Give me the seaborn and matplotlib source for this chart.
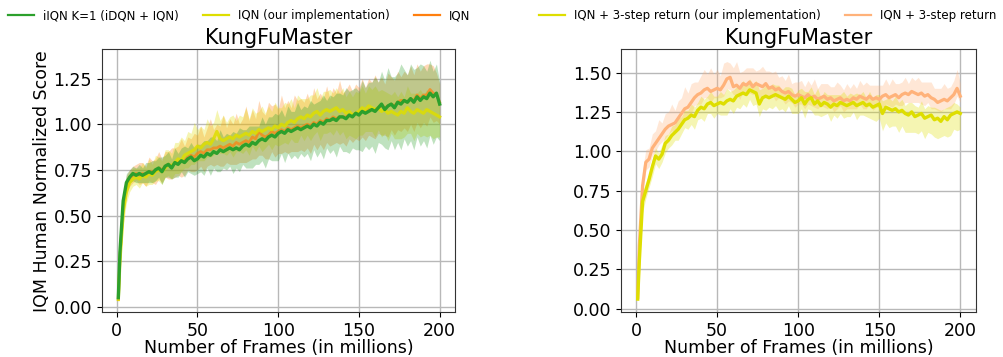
import numpy as np
import matplotlib
matplotlib.use("Agg")
import matplotlib.pyplot as plt
from matplotlib.lines import Line2D
import seaborn as sns

# Frames (in millions) at which the IQM score was logged
frames = np.concatenate([[1], np.arange(2, 201, 2)])

# ---- Left panel: iIQN K=1 vs IQN ----
iiqn_mean = [0.05, 0.30, 0.58, 0.68, 0.71, 0.73,
             0.72, 0.73, 0.72, 0.73, 0.74, 0.73, 0.75, 0.76, 0.74, 0.77, 0.78, 0.76, 0.79, 0.78, 0.80, 0.79, 0.81, 0.82, 0.80,
             0.81, 0.83, 0.82, 0.84, 0.83, 0.85, 0.84, 0.86, 0.85, 0.86, 0.87, 0.86, 0.87, 0.86, 0.88, 0.89, 0.88, 0.90, 0.89, 0.91, 0.92, 0.91, 0.93, 0.94, 0.93,
             0.95, 0.96, 0.95, 0.97, 0.96, 0.97, 0.98, 0.97, 0.98, 0.99, 0.98, 1.00, 0.99, 1.01, 1.00, 1.02, 1.02, 1.03, 1.02, 1.04, 1.04, 1.03, 1.05, 1.04, 1.06,
             1.05, 1.07, 1.06, 1.07, 1.08, 1.07, 1.09, 1.11, 1.08, 1.10, 1.11, 1.09, 1.12, 1.11, 1.13, 1.12, 1.14, 1.12, 1.15, 1.13, 1.15, 1.14, 1.17, 1.15, 1.17, 1.11]
iiqn_lo = [0.01, 0.03, 0.04, 0.04, 0.03, 0.04,
           0.04, 0.05, 0.04, 0.05, 0.06, 0.05, 0.06, 0.05, 0.07, 0.06, 0.07, 0.06, 0.08, 0.07, 0.06, 0.08, 0.07, 0.09, 0.08,
           0.08, 0.09, 0.10, 0.08, 0.11, 0.09, 0.10, 0.12, 0.09, 0.11, 0.10, 0.13, 0.11, 0.12, 0.10, 0.13, 0.12, 0.14, 0.11, 0.13, 0.12, 0.15, 0.12, 0.14, 0.13,
           0.15, 0.12, 0.16, 0.13, 0.15, 0.14, 0.17, 0.13, 0.16, 0.15, 0.18, 0.14, 0.17, 0.16, 0.19, 0.15, 0.18, 0.17, 0.20, 0.16, 0.19, 0.18, 0.21, 0.17, 0.20,
           0.19, 0.22, 0.18, 0.21, 0.20, 0.23, 0.19, 0.22, 0.21, 0.24, 0.20, 0.23, 0.22, 0.25, 0.21, 0.24, 0.23, 0.26, 0.22, 0.25, 0.24, 0.27, 0.23, 0.26, 0.24, 0.20]
iiqn_hi = [0.01, 0.04, 0.05, 0.05, 0.04, 0.04,
           0.04, 0.05, 0.04, 0.06, 0.05, 0.07, 0.05, 0.06, 0.08, 0.06, 0.07, 0.05, 0.08, 0.06, 0.07, 0.09, 0.06, 0.08, 0.07,
           0.08, 0.06, 0.09, 0.07, 0.10, 0.08, 0.07, 0.11, 0.08, 0.09, 0.07, 0.10, 0.08, 0.12, 0.09, 0.08, 0.11, 0.09, 0.10, 0.08, 0.12, 0.09, 0.11, 0.10, 0.13,
           0.10, 0.12, 0.09, 0.13, 0.11, 0.10, 0.14, 0.11, 0.12, 0.10, 0.15, 0.11, 0.13, 0.12, 0.16, 0.11, 0.14, 0.12, 0.15, 0.13, 0.12, 0.17, 0.13, 0.15, 0.14,
           0.13, 0.17, 0.14, 0.16, 0.15, 0.19, 0.14, 0.18, 0.16, 0.21, 0.15, 0.17, 0.16, 0.22, 0.17, 0.15, 0.19, 0.18, 0.16, 0.20, 0.17, 0.15, 0.18, 0.14, 0.16, 0.12]

iqn_ours_mean = [0.04, 0.25, 0.52, 0.63, 0.68, 0.70,
                 0.71, 0.70, 0.72, 0.71, 0.73, 0.72, 0.74, 0.75, 0.74, 0.76, 0.78, 0.77, 0.79, 0.81, 0.80, 0.83, 0.84, 0.85, 0.86,
                 0.88, 0.87, 0.89, 0.90, 0.89, 0.92, 0.96, 0.92, 0.91, 0.92, 0.93, 0.92, 0.94, 0.93, 0.94, 0.95, 0.94, 0.96, 0.95, 0.97, 0.96, 0.97, 0.98, 0.97, 0.99,
                 0.98, 1.00, 0.99, 1.01, 1.02, 1.01, 1.03, 1.04, 1.03, 1.05, 1.04, 1.06, 1.07, 1.05, 1.07, 1.08, 1.07, 1.08, 1.09, 1.07, 1.08, 1.06, 1.07, 1.05, 1.06,
                 1.07, 1.09, 1.08, 1.10, 1.09, 1.08, 1.09, 1.07, 1.08, 1.06, 1.07, 1.06, 1.05, 1.07, 1.06, 1.09, 1.07, 1.06, 1.08, 1.07, 1.06, 1.08, 1.07, 1.06, 1.05, 1.04]
iqn_ours_lo = [0.01, 0.05, 0.08, 0.06, 0.05, 0.04,
               0.04, 0.05, 0.04, 0.05, 0.06, 0.05, 0.05, 0.06, 0.07, 0.05, 0.06, 0.07, 0.06, 0.08, 0.06, 0.07, 0.08, 0.07, 0.08,
               0.08, 0.07, 0.09, 0.08, 0.07, 0.09, 0.10, 0.08, 0.07, 0.09, 0.08, 0.10, 0.09, 0.08, 0.10, 0.09, 0.11, 0.08, 0.10, 0.09, 0.11, 0.10, 0.09, 0.11, 0.10,
               0.10, 0.11, 0.09, 0.12, 0.10, 0.11, 0.13, 0.10, 0.12, 0.11, 0.13, 0.12, 0.11, 0.14, 0.12, 0.13, 0.11, 0.14, 0.12, 0.13, 0.12, 0.14, 0.13, 0.12, 0.14,
               0.13, 0.15, 0.12, 0.14, 0.13, 0.15, 0.12, 0.14, 0.13, 0.15, 0.12, 0.14, 0.13, 0.15, 0.13, 0.14, 0.12, 0.15, 0.13, 0.14, 0.12, 0.15, 0.13, 0.14, 0.12, 0.11]
iqn_ours_hi = [0.01, 0.05, 0.06, 0.05, 0.05, 0.06,
               0.05, 0.06, 0.07, 0.05, 0.08, 0.06, 0.09, 0.07, 0.06, 0.10, 0.08, 0.07, 0.11, 0.09, 0.13, 0.08, 0.12, 0.10, 0.15,
               0.09, 0.12, 0.08, 0.13, 0.10, 0.09, 0.12, 0.10, 0.14, 0.09, 0.11, 0.13, 0.08, 0.12, 0.10, 0.14, 0.09, 0.13, 0.11, 0.10, 0.14, 0.09, 0.12, 0.10, 0.13,
               0.11, 0.09, 0.13, 0.10, 0.12, 0.08, 0.13, 0.10, 0.11, 0.09, 0.12, 0.10, 0.13, 0.09, 0.11, 0.10, 0.12, 0.09, 0.11, 0.10, 0.12, 0.09, 0.11, 0.10, 0.12,
               0.10, 0.12, 0.09, 0.11, 0.10, 0.13, 0.09, 0.12, 0.10, 0.11, 0.09, 0.12, 0.10, 0.11, 0.09, 0.12, 0.10, 0.11, 0.09, 0.12, 0.10, 0.11, 0.09, 0.10, 0.08, 0.07]

iqn_mean = [0.04, 0.27, 0.55, 0.66, 0.70, 0.72,
            0.73, 0.72, 0.73, 0.72, 0.74, 0.74, 0.74, 0.76, 0.75, 0.77, 0.78, 0.77, 0.79, 0.79, 0.80, 0.80, 0.82, 0.83, 0.82,
            0.84, 0.85, 0.84, 0.86, 0.86, 0.87, 0.87, 0.88, 0.87, 0.88, 0.89, 0.88, 0.90, 0.89, 0.90, 0.91, 0.90, 0.93, 0.92, 0.96, 0.94, 0.93, 0.94, 0.96, 0.95,
            0.96, 0.97, 0.96, 0.98, 0.97, 0.98, 0.99, 0.98, 0.99, 1.00, 0.99, 1.01, 1.00, 1.02, 1.01, 1.03, 1.02, 1.04, 1.03, 1.04, 1.04, 1.04, 1.05, 1.05, 1.06,
            1.06, 1.07, 1.07, 1.08, 1.08, 1.08, 1.09, 1.10, 1.09, 1.10, 1.11, 1.10, 1.12, 1.13, 1.13, 1.12, 1.14, 1.13, 1.16, 1.14, 1.16, 1.16, 1.19, 1.17, 1.16, 1.12]
iqn_lo = [0.01, 0.05, 0.06, 0.05, 0.04, 0.04,
          0.04, 0.05, 0.05, 0.06, 0.05, 0.06, 0.07, 0.06, 0.07, 0.06, 0.08, 0.07, 0.08, 0.07, 0.09, 0.08, 0.07, 0.09, 0.08,
          0.09, 0.08, 0.10, 0.09, 0.08, 0.10, 0.09, 0.11, 0.10, 0.09, 0.11, 0.10, 0.12, 0.10, 0.11, 0.12, 0.10, 0.12, 0.11, 0.13, 0.11, 0.12, 0.13, 0.11, 0.13,
          0.12, 0.13, 0.11, 0.14, 0.12, 0.13, 0.14, 0.12, 0.14, 0.13, 0.15, 0.12, 0.14, 0.13, 0.15, 0.13, 0.14, 0.15, 0.13, 0.15, 0.14, 0.16, 0.13, 0.15, 0.14,
          0.15, 0.14, 0.16, 0.14, 0.15, 0.16, 0.14, 0.16, 0.15, 0.17, 0.14, 0.16, 0.15, 0.17, 0.15, 0.16, 0.14, 0.17, 0.15, 0.16, 0.15, 0.17, 0.15, 0.16, 0.14, 0.12]
iqn_hi = [0.01, 0.05, 0.06, 0.06, 0.05, 0.05,
          0.05, 0.07, 0.06, 0.05, 0.08, 0.06, 0.07, 0.09, 0.06, 0.08, 0.07, 0.10, 0.08, 0.09, 0.12, 0.08, 0.11, 0.09, 0.13,
          0.10, 0.14, 0.09, 0.12, 0.17, 0.10, 0.13, 0.11, 0.18, 0.10, 0.14, 0.12, 0.16, 0.11, 0.13, 0.19, 0.12, 0.15, 0.11, 0.17, 0.13, 0.12, 0.18, 0.14, 0.16,
          0.12, 0.19, 0.13, 0.15, 0.12, 0.18, 0.14, 0.16, 0.13, 0.17, 0.12, 0.19, 0.14, 0.15, 0.13, 0.18, 0.12, 0.16, 0.14, 0.20, 0.13, 0.15, 0.17, 0.13, 0.16,
          0.14, 0.18, 0.13, 0.17, 0.15, 0.19, 0.14, 0.16, 0.13, 0.18, 0.15, 0.14, 0.17, 0.13, 0.16, 0.15, 0.18, 0.14, 0.17, 0.15, 0.16, 0.17, 0.14, 0.15, 0.12, 0.10]

# ---- Right panel: IQN with 3-step return ----
iqn3_ours_mean = [0.06, 0.30, 0.68, 0.75, 0.82, 0.90,
                  0.97, 0.95, 0.98, 1.05, 1.07, 1.10, 1.12, 1.14, 1.17, 1.20, 1.21, 1.23, 1.22, 1.26, 1.28, 1.27, 1.30, 1.31, 1.29,
                  1.30, 1.31, 1.30, 1.32, 1.33, 1.32, 1.35, 1.36, 1.37, 1.36, 1.39, 1.38, 1.37, 1.30, 1.34, 1.35, 1.34, 1.35, 1.36, 1.35, 1.34, 1.33, 1.35, 1.33, 1.31,
                  1.32, 1.34, 1.30, 1.33, 1.34, 1.30, 1.32, 1.29, 1.31, 1.30, 1.28, 1.30, 1.29, 1.31, 1.30, 1.29, 1.30, 1.31, 1.29, 1.30, 1.31, 1.29, 1.30, 1.28, 1.29,
                  1.30, 1.24, 1.28, 1.27, 1.26, 1.27, 1.25, 1.26, 1.24, 1.23, 1.25, 1.22, 1.23, 1.24, 1.21, 1.22, 1.23, 1.20, 1.21, 1.19, 1.22, 1.20, 1.23, 1.24, 1.25, 1.24]
iqn3_ours_lo = [0.01, 0.06, 0.07, 0.05, 0.05, 0.06,
                0.05, 0.06, 0.05, 0.06, 0.05, 0.06, 0.05, 0.07, 0.06, 0.05, 0.07, 0.06, 0.08, 0.06, 0.07, 0.08, 0.06, 0.07, 0.08,
                0.06, 0.08, 0.07, 0.09, 0.06, 0.08, 0.07, 0.09, 0.07, 0.08, 0.06, 0.09, 0.07, 0.08, 0.07, 0.09, 0.06, 0.08, 0.07, 0.09, 0.07, 0.08, 0.06, 0.09, 0.07,
                0.08, 0.07, 0.09, 0.06, 0.08, 0.07, 0.09, 0.07, 0.08, 0.06, 0.09, 0.07, 0.08, 0.07, 0.09, 0.07, 0.08, 0.06, 0.09, 0.07, 0.08, 0.07, 0.09, 0.08, 0.10,
                0.09, 0.11, 0.10, 0.12, 0.10, 0.11, 0.13, 0.10, 0.12, 0.11, 0.13, 0.10, 0.12, 0.11, 0.13, 0.10, 0.12, 0.11, 0.13, 0.10, 0.12, 0.11, 0.13, 0.10, 0.12, 0.10]
iqn3_ours_hi = [0.01, 0.05, 0.06, 0.05, 0.04, 0.05,
                0.05, 0.04, 0.06, 0.05, 0.04, 0.06, 0.05, 0.07, 0.05, 0.06, 0.05, 0.07, 0.06, 0.05, 0.07, 0.06, 0.05, 0.07, 0.06,
                0.05, 0.07, 0.06, 0.08, 0.05, 0.07, 0.06, 0.05, 0.08, 0.06, 0.07, 0.05, 0.08, 0.09, 0.06, 0.07, 0.05, 0.08, 0.06, 0.07, 0.05, 0.08, 0.06, 0.07, 0.05,
                0.07, 0.06, 0.08, 0.05, 0.07, 0.06, 0.08, 0.05, 0.07, 0.06, 0.08, 0.06, 0.07, 0.05, 0.08, 0.06, 0.07, 0.05, 0.08, 0.06, 0.07, 0.05, 0.08, 0.06, 0.07,
                0.06, 0.08, 0.05, 0.07, 0.06, 0.08, 0.06, 0.07, 0.05, 0.08, 0.06, 0.07, 0.05, 0.08, 0.06, 0.07, 0.05, 0.08, 0.06, 0.07, 0.05, 0.08, 0.06, 0.07, 0.05, 0.04]

iqn3_mean = [0.07, 0.40, 0.78, 0.93, 0.95, 1.02,
             1.05, 1.08, 1.11, 1.14, 1.16, 1.17, 1.18, 1.21, 1.24, 1.27, 1.28, 1.31, 1.34, 1.36, 1.37, 1.39, 1.40, 1.38, 1.39,
             1.40, 1.39, 1.42, 1.46, 1.47, 1.41, 1.42, 1.40, 1.43, 1.42, 1.44, 1.41, 1.43, 1.42, 1.41, 1.43, 1.40, 1.41, 1.39, 1.40, 1.38, 1.37, 1.38, 1.36, 1.35,
             1.36, 1.35, 1.34, 1.36, 1.34, 1.35, 1.33, 1.34, 1.35, 1.33, 1.34, 1.32, 1.33, 1.34, 1.32, 1.33, 1.32, 1.34, 1.33, 1.35, 1.34, 1.33, 1.35, 1.33, 1.34,
             1.33, 1.35, 1.36, 1.34, 1.35, 1.36, 1.34, 1.36, 1.37, 1.36, 1.38, 1.37, 1.36, 1.37, 1.35, 1.36, 1.34, 1.33, 1.31, 1.32, 1.33, 1.32, 1.34, 1.36, 1.40, 1.35]
iqn3_lo = [0.01, 0.08, 0.07, 0.05, 0.05, 0.05,
           0.05, 0.04, 0.05, 0.06, 0.05, 0.04, 0.06, 0.05, 0.06, 0.05, 0.06, 0.07, 0.05, 0.06, 0.07, 0.05, 0.06, 0.07, 0.05,
           0.06, 0.05, 0.07, 0.06, 0.08, 0.05, 0.06, 0.07, 0.05, 0.06, 0.07, 0.05, 0.06, 0.08, 0.05, 0.07, 0.06, 0.05, 0.07, 0.06, 0.05, 0.07, 0.06, 0.05, 0.07,
           0.06, 0.05, 0.07, 0.06, 0.05, 0.07, 0.06, 0.05, 0.07, 0.06, 0.05, 0.07, 0.06, 0.05, 0.07, 0.06, 0.05, 0.07, 0.06, 0.05, 0.07, 0.06, 0.05, 0.07, 0.06,
           0.05, 0.07, 0.06, 0.05, 0.07, 0.06, 0.05, 0.07, 0.06, 0.05, 0.07, 0.06, 0.05, 0.07, 0.06, 0.05, 0.07, 0.06, 0.05, 0.07, 0.06, 0.05, 0.07, 0.06, 0.05, 0.04]
iqn3_hi = [0.01, 0.08, 0.10, 0.08, 0.07, 0.09,
           0.08, 0.12, 0.07, 0.10, 0.09, 0.13, 0.08, 0.11, 0.10, 0.14, 0.09, 0.12, 0.10, 0.08, 0.11, 0.13, 0.09, 0.15, 0.10,
           0.12, 0.09, 0.14, 0.11, 0.09, 0.12, 0.15, 0.10, 0.08, 0.11, 0.09, 0.12, 0.08, 0.10, 0.13, 0.08, 0.11, 0.09, 0.12, 0.07, 0.10, 0.08, 0.11, 0.07, 0.09,
           0.08, 0.10, 0.07, 0.09, 0.08, 0.11, 0.07, 0.09, 0.08, 0.10, 0.07, 0.09, 0.11, 0.08, 0.07, 0.10, 0.08, 0.09, 0.07, 0.10, 0.08, 0.11, 0.07, 0.09, 0.08,
           0.09, 0.07, 0.10, 0.08, 0.11, 0.07, 0.09, 0.08, 0.10, 0.07, 0.09, 0.08, 0.11, 0.07, 0.09, 0.08, 0.10, 0.07, 0.09, 0.08, 0.10, 0.08, 0.07, 0.09, 0.12, 0.08]

GREEN = "#2ca02c"
YELLOW = "#dede00"
ORANGE = "#ff7f0e"
PEACH = "#ffb27a"

title = "KungFuMaster"
xlabel = "Number of Frames (in millions)"
ylabel = "IQM Human Normalized Score"

# (label, mean, lower gap, upper gap, colour, line width, line alpha)
left_series = [
    ("IQN", iqn_mean, iqn_lo, iqn_hi, ORANGE, 2.0, 0.7),
    ("IQN (our implementation)", iqn_ours_mean, iqn_ours_lo, iqn_ours_hi, YELLOW, 2.3, 0.85),
    ("iIQN K=1 (iDQN + IQN)", iiqn_mean, iiqn_lo, iiqn_hi, GREEN, 2.4, 1.0),
]
left_legend = [("iIQN K=1 (iDQN + IQN)", GREEN),
               ("IQN (our implementation)", YELLOW),
               ("IQN", ORANGE)]

right_series = [
    ("IQN + 3-step return", iqn3_mean, iqn3_lo, iqn3_hi, PEACH, 2.3, 1.0),
    ("IQN + 3-step return (our implementation)", iqn3_ours_mean, iqn3_ours_lo, iqn3_ours_hi, YELLOW, 2.4, 1.0),
]
right_legend = [("IQN + 3-step return (our implementation)", YELLOW),
                ("IQN + 3-step return", PEACH)]

W, H = 1004, 357
fig = plt.figure(figsize=(W / 100, H / 100), dpi=100)

ax_l = fig.add_axes([101.7 / W, (H - 312.3) / H, (455 - 101.7) / W, (312.3 - 49.3) / H])
ax_r = fig.add_axes([621 / W, (H - 312.3) / H, (975.7 - 621) / W, (312.3 - 49.3) / H])


def draw_panel(ax, series, yticks, ylim):
    x = np.asarray(frames, dtype=float)
    for name, mean, lo, hi, color, lw, la in series:
        mean = np.asarray(mean)
        ax.fill_between(x, mean - np.asarray(lo), mean + np.asarray(hi),
                        color=color, alpha=0.3, lw=0, zorder=2)
        sns.lineplot(x=x, y=mean, ax=ax, color=color, lw=lw, alpha=la,
                     zorder=3, legend=False)
    ax.set_xlim(-9.3, 209.5)
    ax.set_ylim(*ylim)
    ax.set_xticks([0, 50, 100, 150, 200])
    ax.set_yticks(yticks)
    ax.yaxis.set_major_formatter(matplotlib.ticker.FormatStrFormatter("%.2f"))
    ax.grid(True, color="#b8b8b8", lw=1.0, zorder=0)
    ax.set_axisbelow(True)
    ax.tick_params(labelsize=12.5)
    ax.set_title(title, fontsize=15, pad=4)
    ax.set_xlabel(xlabel, fontsize=12.5, labelpad=-1)
    for s in ax.spines.values():
        s.set_color("#333333")


draw_panel(ax_l, left_series, [0.0, 0.25, 0.5, 0.75, 1.0, 1.25], (-0.03, 1.41))
draw_panel(ax_r, right_series, [0.0, 0.25, 0.5, 0.75, 1.0, 1.25, 1.5], (-0.024, 1.648))
ax_l.set_ylabel(ylabel, fontsize=12.5, labelpad=2)
ax_r.set_ylabel("")


def top_legend(entries, x_px):
    handles = [Line2D([], [], color=c, lw=1.6) for _, c in entries]
    labels = [n for n, _ in entries]
    fig.legend(handles, labels, loc="center left",
               bbox_to_anchor=(x_px / W, 1 - 16 / H), ncol=len(entries),
               frameon=False, fontsize=8.5, borderpad=0, borderaxespad=0,
               handlelength=2.2, handletextpad=0.8, columnspacing=2.0)


top_legend(left_legend, 8)
top_legend(right_legend, 539)

fig.savefig("out.png", dpi=100)
